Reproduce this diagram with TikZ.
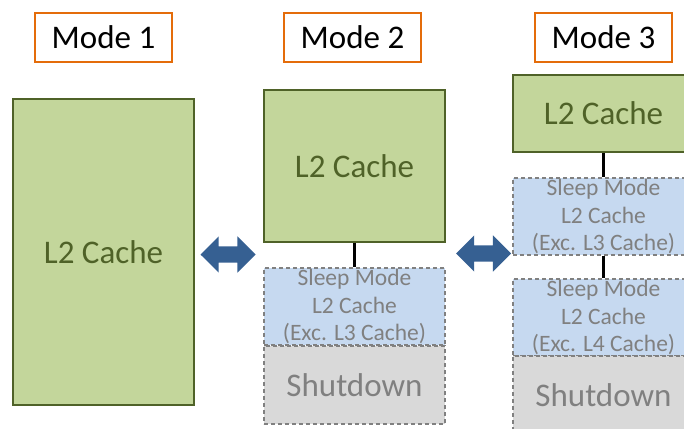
\documentclass[tikz,border=0pt]{standalone}
\usepackage{fontspec}
\setmainfont{Carlito}
\usetikzlibrary{shapes.arrows}
\definecolor{modeorange}{RGB}{228,108,10}
\definecolor{cachefill}{RGB}{195,214,155}
\definecolor{cacheline}{RGB}{79,98,40}
\definecolor{sleepfill}{RGB}{198,217,240}
\definecolor{offfill}{RGB}{217,217,217}
\definecolor{dashgray}{RGB}{128,128,128}
\definecolor{arrowblue}{RGB}{54,96,146}
\tikzset{
  modelabel/.style={draw=modeorange, line width=1.6pt, fill=white, minimum width=137pt, minimum height=49pt,
    inner sep=0pt, font=\fontsize{33}{36}\selectfont, text=black},
  cachebox/.style={draw=cacheline, line width=1.4pt, fill=cachefill, minimum width=181pt,
    inner sep=0pt, font=\fontsize{33}{36}\selectfont, text=cacheline},
  sleepbox/.style={draw=dashgray, dash pattern=on 4pt off 3pt, line width=1.2pt, fill=sleepfill, minimum width=181pt,
    minimum height=77pt, inner sep=0pt, align=center, font=\fontsize{23.5}{27.5}\selectfont, text=dashgray},
  offbox/.style={draw=dashgray, dash pattern=on 4pt off 3pt, line width=1.2pt, fill=offfill, minimum width=181pt,
    minimum height=78pt, inner sep=0pt, font=\fontsize{33}{36}\selectfont, text=dashgray},
  link/.style={draw=black, line width=2.6pt},
  swap/.style={double arrow, fill=arrowblue, draw=none, inner sep=8pt, minimum height=55pt,
    double arrow head extend=10pt, double arrow tip angle=90}
}
\begin{document}
\begin{tikzpicture}[x=1pt,y=-1pt]
\useasboundingbox[fill=white] (0,0) rectangle (684,428);
\clip (0,0) rectangle (684,428);

% mode captions
\node[modelabel] (m1) at (103.5,37.5) {Mode 1};
\node[modelabel] (m2) at (352.5,37.5) {Mode 2};
\node[modelabel] (m3) at (603.5,37.5) {Mode 3};

% mode 1: whole cache active
\node[cachebox, minimum height=306pt] (a1) at (103.5,252) {L2 Cache};

% mode 2
\node[cachebox, minimum height=152pt] (b1) at (354.5,166) {L2 Cache};
\node[sleepbox] (b2) at (354.5,306.5) {Sleep Mode\\L2 Cache\\(Exc. L3 Cache)};
\node[offbox] (b3) at (354.5,385) {Shutdown};
\draw[link] (b1.south) -- (b2.north);

% mode 3
\node[cachebox, minimum height=77pt] (c1) at (603.5,113.5) {L2 Cache};
\node[sleepbox] (c2) at (603.5,216.5) {Sleep Mode\\L2 Cache\\(Exc. L3 Cache)};
\node[sleepbox] (c3) at (603.5,317.5) {Sleep Mode\\L2 Cache\\(Exc. L4 Cache)};
\node[offbox] (c4) at (603.5,395) {Shutdown};
\draw[link] (c1.south) -- (c2.north);
\draw[link] (c2.south) -- (c3.north);

% transitions between modes
\node[swap] (s1) at (228,254.5) {};
\node[swap] (s2) at (483.5,253.5) {};
\end{tikzpicture}
\end{document}
